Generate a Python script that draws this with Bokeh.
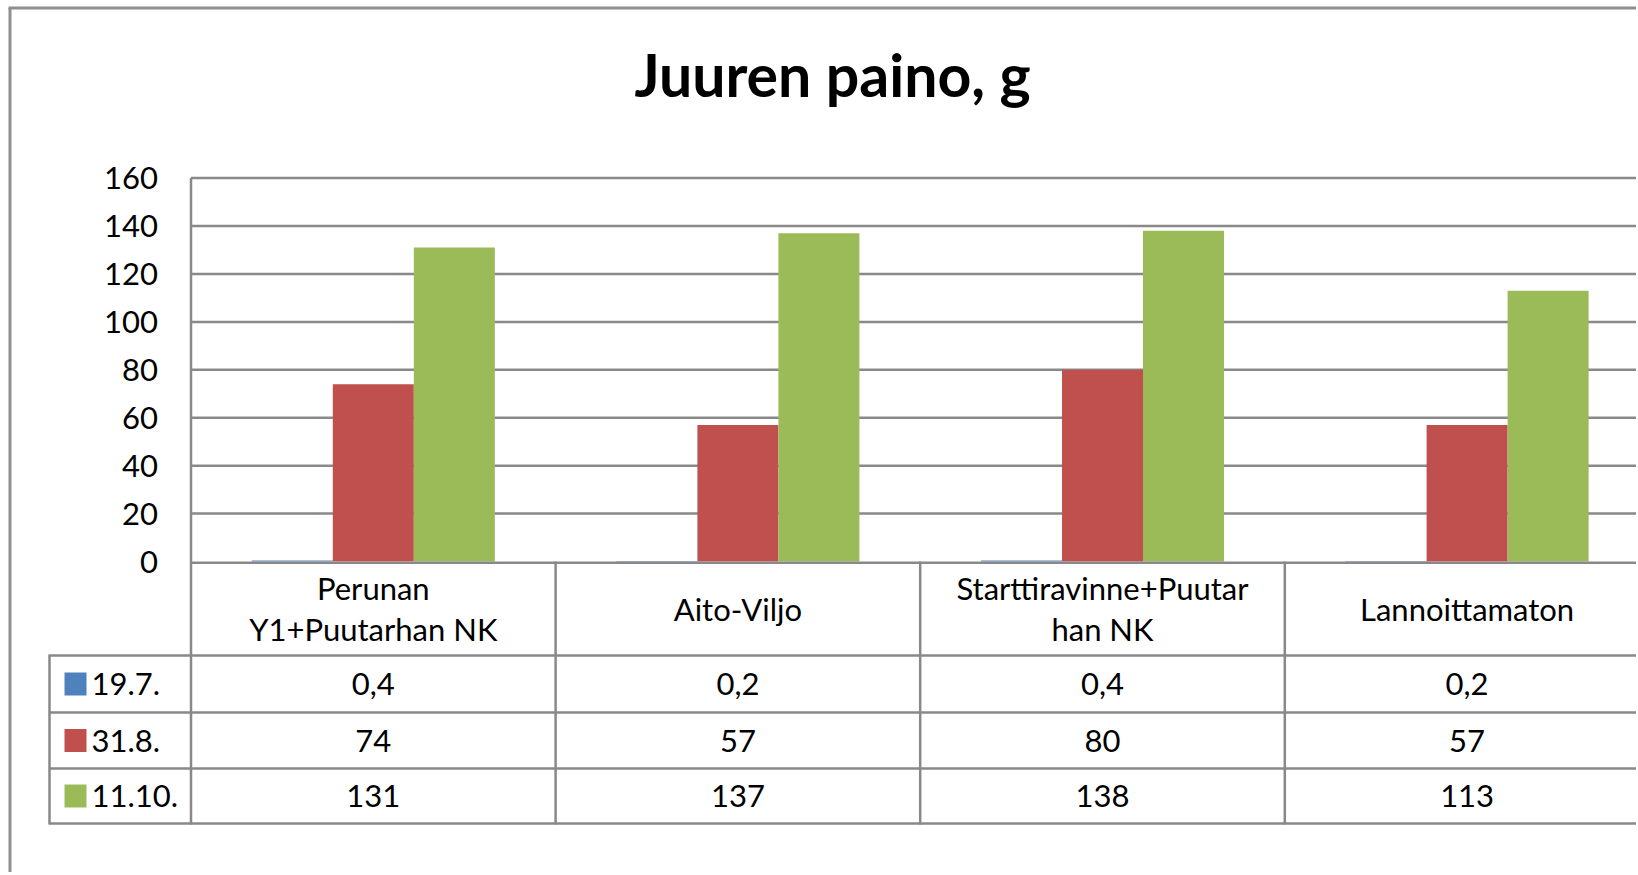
from bokeh.plotting import figure
from bokeh.models import Range1d, LinearAxis, FixedTicker
from bokeh.core.properties import value
from bokeh.embed import file_html
from bokeh.resources import INLINE

# ---------------- data ----------------
title_text = "Juuren paino, g"
categories = ["Perunan Y1+Puutarhan NK", "Aito-Viljo",
              "Starttiravinne+Puutarhan NK", "Lannoittamaton"]
category_labels = ["Perunan\nY1+Puutarhan NK", "Aito-Viljo",
                   "Starttiravinne+Puutar\nhan NK", "Lannoittamaton"]
series_names = ["19.7.", "31.8.", "11.10."]
values_19_7 = [0.4, 0.2, 0.4, 0.2]
values_31_8 = [74, 57, 80, 57]
values_11_10 = [131, 137, 138, 113]
y_ticks = [0, 20, 40, 60, 80, 100, 120, 140, 160]
series_colors = ["#4f81bd", "#c0504d", "#9bbb59"]

series_values = [values_19_7, values_31_8, values_11_10]

# ---------------- layout (page pixels) ----------------
W, H = 1636, 872
PLOT_LEFT = 190.5
CAT_W = 364.6
ZERO_Y = 561.0
PPU = 383.4 / 160.0
GRID = "#898989"
LW = 2.5
FONT = "Lato"


def xd(px):
    return (px - PLOT_LEFT) / CAT_W


def yd(py):
    return (ZERO_Y - py) / PPU


p = figure(width=W, height=H, output_backend="svg", toolbar_location=None,
           x_range=Range1d(xd(0), xd(W)), y_range=Range1d(yd(H), yd(0)),
           x_axis_location=None, y_axis_location=None, title_location=None,
           min_border_left=0, min_border_right=0, min_border_top=0,
           min_border_bottom=0, tools="")
p.outline_line_color = None
p.background_fill_color = "white"
p.border_fill_color = "white"
for g in p.grid:
    g.visible = False

n = len(categories)
x_right = xd(W + 20)

# gridlines
p.segment(x0=[0.0] * (len(y_ticks) - 1), x1=[x_right] * (len(y_ticks) - 1),
          y0=y_ticks[1:], y1=y_ticks[1:], line_color=GRID, line_width=LW)

# bars
bar_w = 2.0 / 9.0
for j, (vals, col) in enumerate(zip(series_values, series_colors)):
    xs = [i + 0.5 + (j - 1) * bar_w for i in range(n)]
    p.vbar(x=xs, top=vals, bottom=0, width=bar_w, fill_color=col,
           line_color=None)

# table geometry
HEADER_BOTTOM = 655.0
ROW_LINES = [712.0, 768.0, 823.0]
LEG_LEFT = 49.0
TABLE_BOTTOM = ROW_LINES[-1]

# horizontal table lines
hy = [yd(ZERO_Y + 1.2)] + [yd(v) for v in [HEADER_BOTTOM] + ROW_LINES]
hx0 = [0.0] + [xd(LEG_LEFT)] * (len(ROW_LINES) + 1)
p.segment(x0=hx0, x1=[x_right] * len(hy), y0=hy, y1=hy,
          line_color=GRID, line_width=LW)
# vertical: value axis + category separators
vx = [0.0] + [float(i) for i in range(1, n + 1)]
p.segment(x0=vx, x1=vx, y0=[max(y_ticks)] + [0.0] * n,
          y1=[yd(TABLE_BOTTOM + 1)] * len(vx), line_color=GRID, line_width=LW)
# legend column left edge
p.segment(x0=[xd(LEG_LEFT)], x1=[xd(LEG_LEFT)], y0=[yd(HEADER_BOTTOM - 1)],
          y1=[yd(TABLE_BOTTOM + 1)], line_color=GRID, line_width=LW)

# outer chart border (left and top, the rest is cut off)
p.segment(x0=[xd(9.5), xd(8)], x1=[xd(9.5), x_right],
          y0=[yd(7.5), yd(7.5)], y1=[yd(H + 10), yd(7.5)],
          line_color="#8f8f8f", line_width=3)

# category labels in the header row
p.text(x=[i + 0.5 for i in range(n)], y=[yd((ZERO_Y + HEADER_BOTTOM) / 2)] * n,
       text=category_labels, text_align="center", text_baseline="middle",
       text_font=value(FONT), text_font_size="31px", text_color="black",
       text_line_height=1.09)

# table values and legend column
row_bounds = [HEADER_BOTTOM] + ROW_LINES
for j, (name, vals, col) in enumerate(zip(series_names, series_values, series_colors)):
    cy = yd((row_bounds[j] + row_bounds[j + 1]) / 2)
    labels = [f"{v:g}".replace(".", ",") for v in vals]
    p.text(x=[i + 0.5 for i in range(n)], y=[cy] * n, text=labels,
           text_align="center", text_baseline="middle",
           text_font=value(FONT), text_font_size="31px", text_color="black")
    p.rect(x=[xd(75)], y=[cy], width=22, height=23, width_units="screen",
           height_units="screen", fill_color=col, line_color=None)
    p.text(x=[xd(91)], y=[cy], text=[name], text_align="left",
           text_baseline="middle", text_font=value(FONT),
           text_font_size="31px", text_color="black")

# title
p.text(x=[xd(832)], y=[yd(74)], text=[title_text], text_align="center",
       text_baseline="middle", text_font=value(FONT), text_font_size="59px",
       text_font_style="bold", text_color="black")

# value axis (labels only)
yaxis = LinearAxis(fixed_location=0, ticker=FixedTicker(ticks=y_ticks),
                   axis_line_color=None, major_tick_line_color=None,
                   minor_tick_line_color=None, major_tick_in=0,
                   major_tick_out=0, major_label_standoff=33,
                   major_label_text_font=FONT,
                   major_label_text_font_size="31px",
                   major_label_text_color="black")
p.add_layout(yaxis, "left")

open("out.html", "w").write(file_html(p, INLINE))
